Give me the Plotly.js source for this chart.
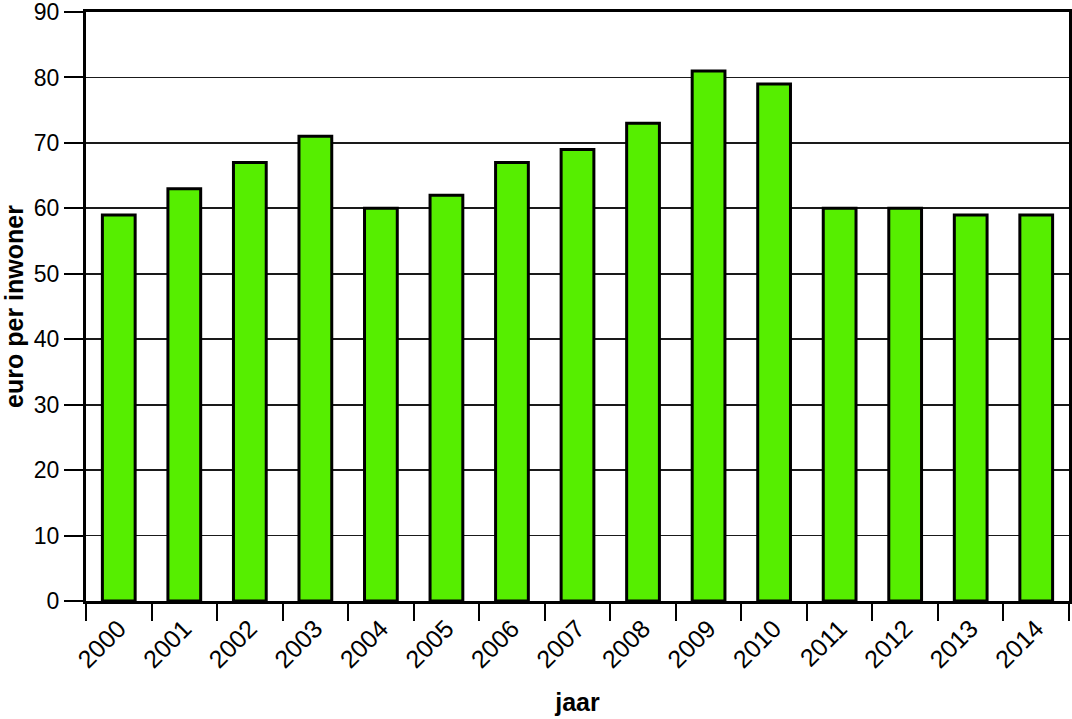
<!DOCTYPE html>
<html>
<head>
<meta charset="utf-8">
<script src="https://cdn.plot.ly/plotly-3.0.1.min.js"></script>
<style>html,body{margin:0;padding:0;background:#fff;}#chart{width:1072px;height:719px;}</style>
</head>
<body>
<div id="chart"></div>
<script>
const years = ["2000","2001","2002","2003","2004","2005","2006","2007","2008","2009","2010","2011","2012","2013","2014"];
const euroPerInwoner = [59,63,67,71,60,62,67,69,73,81,79,60,60,59,59];
const yTicks = [0,10,20,30,40,50,60,70,80,90];
const xTitle = "jaar";
const yTitle = "euro per inwoner";

const font = "Liberation Sans, Arial, sans-serif";
const trace = {
  type: "bar",
  x: years,
  y: euroPerInwoner,
  width: 0.5,
  marker: {color: "#56ee00", line: {color: "#000", width: 3}},
  hoverinfo: "x+y"
};
const layout = {
  width: 1072, height: 719,
  margin: {l: 86, r: 3, t: 12, b: 118},
  paper_bgcolor: "#fff", plot_bgcolor: "#fff",
  showlegend: false,
  font: {family: font, size: 24, color: "#000"},
  xaxis: {
    type: "category",
    tickson: "boundaries",
    ticks: "outside", ticklen: 17, tickwidth: 2, tickcolor: "#000",
    tickangle: -45,
    showline: true, linecolor: "#000", linewidth: 3, mirror: true,
    showgrid: false, zeroline: false,
    tickfont: {family: font, size: 25},
    title: {text: xTitle, font: {family: font, size: 25, weight: "bold"}, standoff: 22}
  },
  yaxis: {
    range: [0, 90], tickvals: yTicks, fixedrange: true,
    ticks: "outside", ticklen: 19, tickwidth: 2, tickcolor: "#000",
    ticklabeloverflow: "allow",
    showline: true, linecolor: "#000", linewidth: 3, mirror: true,
    showgrid: true, gridcolor: "#1a1a1a", gridwidth: 1.8,
    zeroline: false,
    tickfont: {family: font, size: 23},
    title: {text: yTitle, font: {family: font, size: 25, weight: "bold"}, standoff: 6}
  },
  bargap: 0.5
};
Plotly.newPlot("chart", [trace], layout, {displayModeBar: false, staticPlot: true});
</script>
</body>
</html>
